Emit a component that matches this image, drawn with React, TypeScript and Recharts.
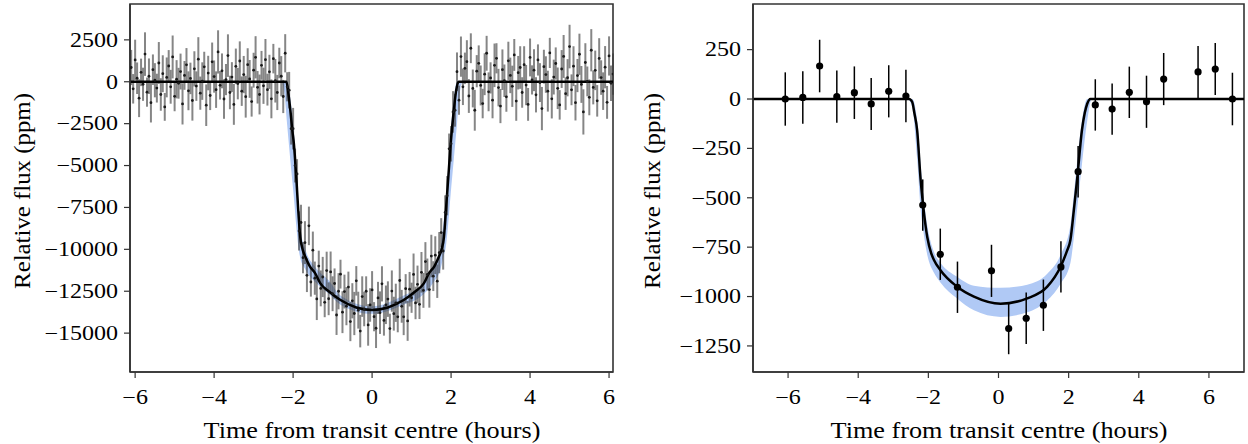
import React from 'react';
import { ComposedChart, XAxis, YAxis, Scatter, Line, Area, ErrorBar, ReferenceArea } from 'recharts';

// ---------- left panel: individual exposures ----------
const LEFT_T0 = -6.1; // hours, first exposure
const LEFT_CADENCE = 0.05; // hours between exposures
// flux in ppm, one row per half hour
const leftFlux = [
  850, -420, 1300, 210, -980, 560, -150, 1650, -620, 330,
  -1250, 720, 90, -380, 1120, -760, 480, -1500, 260, 940,
  -300, 1480, -870, 150, -90, 610, -1320, 380, 1010, -540,
  200, -1120, 770, -260, 1350, -680, 40, 890, -1400, 520,
  -820, 1190, 310, -470, 1780, -210, 650, -1030, 130, 1560,
  -640, 280, -1350, 920, -110, 1240, -560, 430, -890, 1020,
  170, -1180, 690, 1460, -330, -760, 980, -240, 1320, -470,
  590, -1020, 1380, 60, -640, 1120, 330, -880, 1700, -300,
  -500, -2800, -2800, -5000, -5500, -8900, -8400, -10500, -9600, -11550,
  -8600, -11950, -10050, -11720, -12960, -11000, -12330, -11650, -13160, -11270,
  -12950, -11350, -12650, -12040, -13920, -12500, -11480, -13750, -12520, -13390,
  -12250, -14310, -13070, -13830, -11880, -13630, -14880, -12820, -13560, -12500,
  -14510, -13320, -12420, -14020, -14710, -12900, -13780, -12060, -14240, -13310,
  -12970, -14730, -12490, -13840, -13190, -14030, -11860, -13400, -14030, -12350,
  -14270, -12380, -12890, -11500, -13200, -12090, -13280, -11370, -12450, -10730,
  -11500, -12400, -10400, -11600, -10350, -11900, -10200, -9000, -10100, -7800,
  -6800, -4000, -3700, -1800, -1700, 600, -1100, 1500, -300, 800,
  1200, -850, 2000, -400, -1700, 630, 1100, -220, -1300, 450,
  1700, -600, 230, -1100, 980, 1400, -350, -1450, 720, 60,
  -900, 1250, 380, -270, 1600, -1150, 540, 850, -640, 1020,
  -200, -1350, 1450, 110, 690, -780, 1300, -50, -1600, 900,
  430, -560, 1720, -1020, 280, 1090, -390, -1380, 760, 1510,
  -710, 240, 2100, -480, 930, -1250, 370, 1640, -160, -1800,
  1150, 20, -930, 1880, -340, 680, -1140, 1390, 250, -560,
  870, -1230, 1540, -90, 460,
];
// 1-sigma uncertainty in ppm, same layout
const leftErr = [
  1050, 880, 1210, 940, 1130, 820, 990, 1300, 870, 1060,
  1180, 910, 1020, 860, 1250, 970, 1100, 830, 1190, 950,
  1010, 1280, 890, 1140, 920, 1070, 1230, 860, 1000, 1160,
  940, 1200, 1050, 880, 1310, 990, 1120, 900, 1240, 1030,
  870, 1150, 960, 1090, 1290, 850, 1040, 1180, 930, 1270,
  1000, 890, 1220, 1060, 940, 1170, 880, 1110, 1250, 980,
  1130, 900, 1040, 1260, 970, 1190, 860, 1080, 1230, 950,
  1020, 1160, 880, 1300, 1050, 910, 1200, 990, 1140, 870,
  1090, 950, 1240, 1010, 880, 1170, 1060, 930, 1280, 1000,
  1150, 870, 1110, 990, 1260, 920, 1070, 1200, 890, 1130,
  980, 1220, 1040, 900, 1190, 1080, 860, 1250, 1010, 1140,
  920, 1170, 1050, 1290, 880, 1100, 970, 1210, 1030, 890,
  1240, 1000, 1120, 870, 1180, 960, 1270, 1050, 910, 1150,
  1060, 890, 1230, 1010, 1140, 920, 1300, 980, 1090, 870,
  1190, 1030, 900, 1250, 970, 1120, 880, 1210, 1040, 1160,
  950, 1080, 1270, 890, 1130, 1000, 1230, 860, 1110, 1020,
  1170, 910, 1060, 1240, 980, 1150, 870, 1200, 1090, 940,
  1280, 1010, 890, 1130, 1220, 960, 1070, 1190, 880, 1250,
  1040, 1160, 930, 1080, 1300, 900, 1120, 1020, 1210, 970,
  890, 1140, 1060, 1230, 950, 1180, 1000, 1270, 910, 1100,
  1200, 980, 1130, 870, 1250, 1050, 930, 1160, 1290, 1010,
  1090, 1220, 900, 1170, 1040, 960, 1240, 880, 1130, 1280,
  970, 1110, 1300, 920, 1190, 1060, 990, 1230, 1100, 1350,
  1150, 890, 1070, 1260, 1010, 1180, 940, 1210, 1030, 1120,
  1260, 980, 1170, 1060, 1230,
];

const leftModelT = [-6.13, -2.17, -2.12, -2.07, -2.02, -1.98, -1.92, -1.87, -1.82, -1.76, -1.69, -1.58, -1.44, -1.31, -1.1, -0.8, -0.4, 0, 0.4, 0.8, 1.1, 1.31, 1.44, 1.58, 1.69, 1.76, 1.82, 1.87, 1.93, 1.99, 2.07, 2.13, 2.19, 6.1];
const leftModelFlux = [0, 0, -700, -1700, -2900, -3700, -5700, -7650, -9250, -10000, -10440, -11000, -11430, -12030, -12500, -13025, -13470, -13620, -13470, -13025, -12500, -12030, -11430, -11000, -10440, -10000, -9250, -7650, -5700, -3700, -1700, -500, 0, 0];

const leftBandT = [-6.13, -2.3, -2.22, -2.15, -2.07, -1.98, -1.92, -1.87, -1.82, -1.69, -1.44, -1.1, -0.8, 0, 0.8, 1.22, 1.56, 1.73, 1.8, 1.87, 1.93, 1.99, 2.07, 2.15, 2.22, 2.3, 6.1];
const leftBandLo = [0, 0, -700, -2600, -4700, -6900, -8600, -9800, -10500, -11200, -11950, -12650, -13300, -13850, -13300, -12850, -11950, -11200, -10500, -9800, -8400, -6700, -4600, -2500, -700, 0, 0];
const leftBandHi = [0, 0, 0, 0, -1000, -3000, -5000, -7000, -8700, -10000, -11050, -11850, -12750, -13400, -12750, -12250, -11050, -9900, -8600, -7100, -5000, -3000, -1000, 0, 0, 0, 0];

const leftXTicks = [-6, -4, -2, 0, 2, 4, 6];
const leftYTicks = [2500, 0, -2500, -5000, -7500, -10000, -12500, -15000];

// ---------- right panel: binned points ----------
const rightT = [-6.08, -5.58, -5.1, -4.61, -4.11, -3.63, -3.13, -2.64, -2.16, -1.66, -1.17, -0.2, 0.29, 0.79, 1.28, 1.78, 2.27, 2.76, 3.24, 3.73, 4.22, 4.71, 5.69, 6.18, 6.67];
const rightFlux = [0, 8, 167, 12, 32, -25, 39, 15, -537, -786, -953, -870, -1162, -1110, -1044, -850, -368, -30, -51, 34, -14, 101, 137, 152, 0];
const rightErr = [135, 133, 133, 132, 133, 132, 132, 133, 130, 130, 130, 132, 130, 130, 130, 130, 130, 130, 130, 130, 132, 132, 132, 132, 133];

const rightModelT = [-7, -2.55, -2.46, -2.4, -2.32, -2.22, -2.15, -2.03, -1.92, -1.84, -1.65, -1.18, -0.7, 0.06, 0.82, 1.39, 1.77, 1.95, 2.05, 2.15, 2.24, 2.38, 2.46, 2.53, 2.62, 7];
const rightModelFlux = [0, 0, -15, -70, -157, -410, -537, -700, -780, -815, -868, -950, -1000, -1036, -1009, -950, -849, -770, -714, -560, -410, -157, -70, -24, 0, 0];

const rightBandT = [-7, -2.6, -2.46, -2.32, -2.22, -2.15, -2.03, -1.84, -1.65, -1.18, -0.7, 0.06, 0.82, 1.39, 1.77, 2.05, 2.15, 2.24, 2.38, 2.53, 2.66, 7];
const rightBandLo = [0, 0, -40, -300, -560, -660, -790, -880, -930, -1010, -1070, -1103, -1080, -1020, -935, -830, -700, -560, -330, -110, 0, 0];
const rightBandHi = [0, 0, 0, -110, -330, -470, -640, -775, -830, -900, -945, -956, -940, -885, -790, -640, -480, -320, -110, 0, 0, 0];

const rightXTicks = [-6, -4, -2, 0, 2, 4, 6];
const rightYTicks = [250, 0, -250, -500, -750, -1000, -1250];

const FONT = '"Liberation Serif", "Times New Roman", serif';
const BAND = '#b0c9f5';
const FRAME = '#333';

const fmt = (v: number) => (v < 0 ? `\u2212${Math.abs(v)}` : `${v}`);

const leftPoints = leftFlux.map((flux, i) => ({ t: LEFT_T0 + i * LEFT_CADENCE, flux, err: leftErr[i] }));
const leftModel = leftModelT.map((t, i) => ({ t, flux: leftModelFlux[i] }));
const leftBand = leftBandT.map((t, i) => ({ t, band: [leftBandLo[i], leftBandHi[i]] }));

const rightPoints = rightT.map((t, i) => ({ t, flux: rightFlux[i], err: rightErr[i] }));
const rightModel = rightModelT.map((t, i) => ({ t, flux: rightModelFlux[i] }));
const rightBand = rightBandT.map((t, i) => ({ t, band: [rightBandLo[i], rightBandHi[i]] }));

// the figure is a little wider than it is tall, so glyphs are widened
const TICK_SX = 1.2;
const tickText = { fontFamily: FONT, fontSize: 20, fill: '#000' };

const YTick = ({ x, y, payload }: any) => (
  <text transform={`translate(${x},${y}) scale(${TICK_SX},1)`} textAnchor="end" dominantBaseline="central" style={tickText}>
    {fmt(payload.value)}
  </text>
);

const XTick = ({ x, y, payload }: any) => (
  <text transform={`translate(${x},${y}) scale(${TICK_SX},1)`} textAnchor="middle" dy="0.71em" style={tickText}>
    {fmt(payload.value)}
  </text>
);

const SmallDot = (p: any) => <circle cx={p.cx} cy={p.cy} r={1.4} fill="#1a1a1a" />;
const BigDot = (p: any) => <circle cx={p.cx} cy={p.cy} r={3.6} fill="#000" />;

function Panel({ width, yWidth, right, xDomain, yDomain, xTicks, yTicks, points, model, band, small }: any) {
  return (
    <ComposedChart width={width} height={444} margin={{ top: 4, right, bottom: 0, left: 0 }}>
      <XAxis
        type="number"
        dataKey="t"
        domain={xDomain}
        ticks={xTicks}
        allowDataOverflow
        tick={<XTick />}
        tickSize={6}
        tickMargin={12}
        height={72}
        axisLine={{ stroke: FRAME, strokeWidth: 1.6 }}
        tickLine={{ stroke: FRAME, strokeWidth: 1.2 }}
      />
      <YAxis
        type="number"
        domain={yDomain}
        ticks={yTicks}
        allowDataOverflow
        tick={<YTick />}
        tickSize={6}
        tickMargin={6}
        width={yWidth}
        axisLine={{ stroke: FRAME, strokeWidth: 1.6 }}
        tickLine={{ stroke: FRAME, strokeWidth: 1.2 }}
      />
      <Area data={band} dataKey="band" type="monotone" stroke="none" fill={BAND} fillOpacity={1} isAnimationActive={false} />
      <Scatter data={points} dataKey="flux" shape={small ? SmallDot : BigDot} isAnimationActive={false}>
        <ErrorBar
          dataKey="err"
          direction="y"
          width={0}
          stroke={small ? 'rgba(60,60,60,0.62)' : '#000'}
          strokeWidth={small ? 2 : 1.5}
          isAnimationActive={false}
        />
      </Scatter>
      <Line data={model} dataKey="flux" type="monotone" stroke="#000" strokeWidth={2.5} dot={false} isAnimationActive={false} />
      <ReferenceArea x1={xDomain[0]} x2={xDomain[1]} y1={yDomain[0]} y2={yDomain[1]} fill="none" stroke={FRAME} strokeWidth={1.6} ifOverflow="extendDomain" />
    </ComposedChart>
  );
}

export default function App() {
  const titleStyle = { fontFamily: FONT, fontSize: 23, fill: '#000' };
  return (
    <div style={{ position: 'relative', width: 1248, height: 444, background: '#fff' }}>
      <style>{'body{margin:0}'}</style>
      <div style={{ position: 'absolute', left: 0, top: 0 }}>
        <Panel
          width={625}
          yWidth={130}
          right={12}
          xDomain={[-6.13, 6.1]}
          yDomain={[-17320, 4640]}
          xTicks={leftXTicks}
          yTicks={leftYTicks}
          points={leftPoints}
          model={leftModel}
          band={leftBand}
          small
        />
      </div>
      <div style={{ position: 'absolute', left: 624, top: 0 }}>
        <Panel
          width={624}
          yWidth={129}
          right={4}
          xDomain={[-7, 7]}
          yDomain={[-1382, 481]}
          xTicks={rightXTicks}
          yTicks={rightYTicks}
          points={rightPoints}
          model={rightModel}
          band={rightBand}
        />
      </div>
      <svg width={1248} height={444} style={{ position: 'absolute', left: 0, top: 0, pointerEvents: 'none' }}>
        <text transform="translate(22,191) rotate(-90) scale(1.08,1)" textAnchor="middle" dominantBaseline="central" style={titleStyle}>
          Relative flux (ppm)
        </text>
        <text transform="translate(372,438) scale(1.14,1)" textAnchor="middle" style={titleStyle}>
          Time from transit centre (hours)
        </text>
        <text transform="translate(652,191) rotate(-90) scale(1.08,1)" textAnchor="middle" dominantBaseline="central" style={titleStyle}>
          Relative flux (ppm)
        </text>
        <text transform="translate(999,438) scale(1.14,1)" textAnchor="middle" style={titleStyle}>
          Time from transit centre (hours)
        </text>
      </svg>
    </div>
  );
}
